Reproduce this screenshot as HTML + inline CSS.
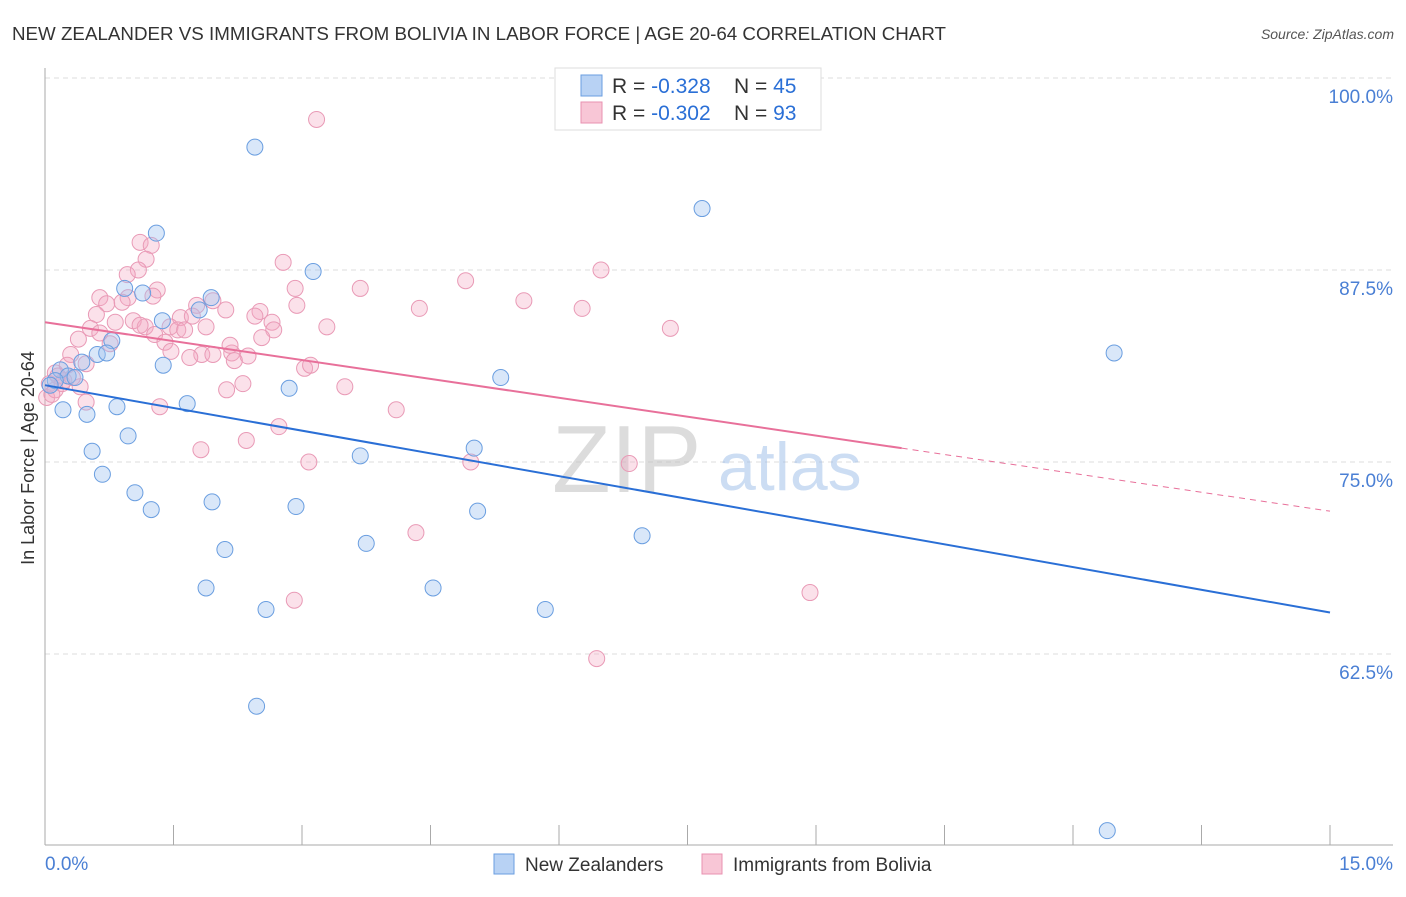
<!DOCTYPE html>
<html><head><meta charset="utf-8"><style>
body{margin:0;background:#fff;font-family:"Liberation Sans",sans-serif;}
svg text{font-family:"Liberation Sans",sans-serif;}
</style></head><body>
<svg id="chart" width="1406" height="892">
<text x="12" y="40" font-size="18" fill="#333" textLength="934" lengthAdjust="spacingAndGlyphs">NEW ZEALANDER VS IMMIGRANTS FROM BOLIVIA IN LABOR FORCE | AGE 20-64 CORRELATION CHART</text>
<text x="1394" y="39" font-size="14" fill="#555" font-style="italic" text-anchor="end">Source: ZipAtlas.com</text>
<text x="34" y="458" font-size="18" fill="#333" text-anchor="middle" transform="rotate(-90 34 458)">In Labor Force | Age 20-64</text>
<g id="grid"></g>
<g opacity="0.5">
<text x="552" y="492" font-size="96" fill="#bbb" font-family="Liberation Serif,serif">ZIP</text>
<text x="718" y="490" font-size="68" fill="#9bbce8">atlas</text>
</g>
<g id="points"></g>
<g id="lines"></g>
<g>
<rect x="555" y="68" width="266" height="62" fill="#fff" stroke="#ddd"/>
<rect x="581" y="75" width="21" height="21" fill="#b8d2f4" stroke="#6a9ee0"/>
<rect x="581" y="102" width="21" height="21" fill="#f8c6d6" stroke="#e891b0"/>
<text x="612" y="93" font-size="21" fill="#333">R = <tspan fill="#2a6fd6">-0.328</tspan><tspan x="734">N = </tspan><tspan fill="#2a6fd6">45</tspan></text>
<text x="612" y="120" font-size="21" fill="#333">R = <tspan fill="#2a6fd6">-0.302</tspan><tspan x="734">N = </tspan><tspan fill="#2a6fd6">93</tspan></text>
</g>
<g>
<rect x="494" y="854" width="20" height="20" fill="#b8d2f4" stroke="#6a9ee0"/>
<text x="525" y="871" font-size="19" fill="#333">New Zealanders</text>
<rect x="702" y="854" width="20" height="20" fill="#f8c6d6" stroke="#e891b0"/>
<text x="733" y="871" font-size="19" fill="#333">Immigrants from Bolivia</text>
</g>
</svg>
<script>
const yTicks=[100,87.5,75,62.5];
const yTickLabels=["100.0%","87.5%","75.0%","62.5%"];
const xTickLabels=["0.0%","15.0%"];
const blueX=[2.45,1.30,7.67,3.13,12.48,0.93,1.14,1.94,1.37,1.80,0.78,0.61,0.72,0.43,1.38,0.18,0.27,0.12,0.35,0.06,0.21,0.49,0.84,1.66,2.85,5.32,0.55,0.97,0.67,1.05,1.24,1.95,2.93,3.68,5.01,5.05,2.10,3.75,6.97,1.88,2.58,4.53,5.84,2.47,12.40];
const blueY=[95.5,89.9,91.5,87.4,82.1,86.3,86.0,85.7,84.2,84.9,82.9,82.0,82.1,81.5,81.3,81.0,80.6,80.3,80.5,80.0,78.4,78.1,78.6,78.8,79.8,80.5,75.7,76.7,74.2,73.0,71.9,72.4,72.1,75.4,75.9,71.8,69.3,69.7,70.2,66.8,65.4,66.8,65.4,59.1,51.0];
const pinkX=[3.17,1.11,1.24,1.18,1.09,0.96,2.78,6.49,4.91,3.68,2.92,1.31,0.97,0.64,1.26,5.59,4.37,2.94,6.27,1.96,1.77,0.90,0.72,2.11,2.51,2.45,2.65,0.60,1.58,1.72,1.03,0.82,3.29,1.88,0.53,2.67,1.17,1.46,1.55,1.28,1.40,0.76,7.30,0.39,2.53,2.18,2.37,1.83,1.96,1.47,1.69,0.30,0.26,0.48,3.03,3.10,2.21,0.12,0.22,0.05,0.41,3.50,2.31,2.12,0.02,0.48,1.34,4.10,2.73,2.35,1.82,3.08,4.97,6.82,4.33,2.91,8.93,6.44,0.12,0.15,0.08,0.20,0.32,0.64,1.11,1.63,2.16];
const pinkY=[97.3,89.3,89.1,88.2,87.5,87.2,88.0,87.5,86.8,86.3,86.3,86.2,85.7,85.7,85.8,85.5,85.0,85.2,85.0,85.5,85.2,85.4,85.3,84.9,84.8,84.5,84.1,84.6,84.4,84.5,84.2,84.1,83.8,83.8,83.7,83.6,83.8,83.8,83.6,83.3,82.8,82.7,83.7,83.0,83.1,82.1,81.9,82.0,82.0,82.2,81.8,82.0,81.3,81.4,81.1,81.3,81.6,80.8,80.3,80.1,79.9,79.9,80.1,79.7,79.2,78.9,78.6,78.4,77.3,76.4,75.8,75.0,75.0,74.9,70.4,66.0,66.5,62.2,79.7,80.6,79.4,80.1,80.5,83.4,83.9,83.6,82.6];
const blueTrend=[80.0,65.2];
const pinkTrend=[84.1,71.8];
const pinkSolidEnd=10.0;

const NS="http://www.w3.org/2000/svg";
const sx=v=>45+v*(1285/15);
const sy=v=>78+(100-v)*(192/12.5);
function mk(tag,attrs,parent){const e=document.createElementNS(NS,tag);for(const k in attrs)e.setAttribute(k,attrs[k]);parent.appendChild(e);return e;}
const grid=document.getElementById('grid');
yTicks.forEach((t,i)=>{
  const l=mk('line',{x1:45,x2:1393,y1:sy(t),y2:sy(t),stroke:'#ddd','stroke-dasharray':'5,4'},grid);
  
  
  const tx=mk('text',{x:1393,y:sy(t)+25,'font-size':19,fill:'#4a7fd4','text-anchor':'end'},grid);
  tx.textContent=yTickLabels[i];
  
  
});
const ya=mk('line',{x1:45,x2:45,y1:68,y2:845,stroke:'#aaa'},grid);


const xa=mk('line',{x1:45,x2:1393,y1:845,y2:845,stroke:'#aaa'},grid);


for(let i=0;i<=10;i++){
  const t=mk('line',{x1:sx(i*1.5),x2:sx(i*1.5),y1:825,y2:845,stroke:'#aaa'},grid);
  
  
}
[[0,'start',45],[15,'end',1393]].forEach((d,i)=>{
  const tx=mk('text',{x:d[2],y:870,'font-size':19,fill:'#4a7fd4','text-anchor':d[1]},grid);
  tx.textContent=xTickLabels[i];
  
  
});
const pts=document.getElementById('points');
pinkX.forEach((x,i)=>{
  const c=mk('circle',{cx:sx(x),cy:sy(pinkY[i]),r:8,fill:'rgba(244,170,196,0.35)',stroke:'#e99ab6','stroke-width':1},pts);
  
  
});
blueX.forEach((x,i)=>{
  const c=mk('circle',{cx:sx(x),cy:sy(blueY[i]),r:8,fill:'rgba(160,196,240,0.4)',stroke:'#6a9ee0','stroke-width':1},pts);
  
  
});
const lines=document.getElementById('lines');
const bl=mk('line',{x1:sx(0),y1:sy(blueTrend[0]),x2:sx(15),y2:sy(blueTrend[1]),stroke:'#2a6fd6','stroke-width':2},lines);


const pAt=x=>pinkTrend[0]+(pinkTrend[1]-pinkTrend[0])*x/15;
const pl=mk('line',{x1:sx(0),y1:sy(pinkTrend[0]),x2:sx(pinkSolidEnd),y2:sy(pAt(pinkSolidEnd)),stroke:'#e8709a','stroke-width':2},lines);


const pd=mk('line',{x1:sx(pinkSolidEnd),y1:sy(pAt(pinkSolidEnd)),x2:sx(15),y2:sy(pinkTrend[1]),stroke:'#e8709a','stroke-width':1,'stroke-dasharray':'6,5'},lines);


</script>
</body></html>
